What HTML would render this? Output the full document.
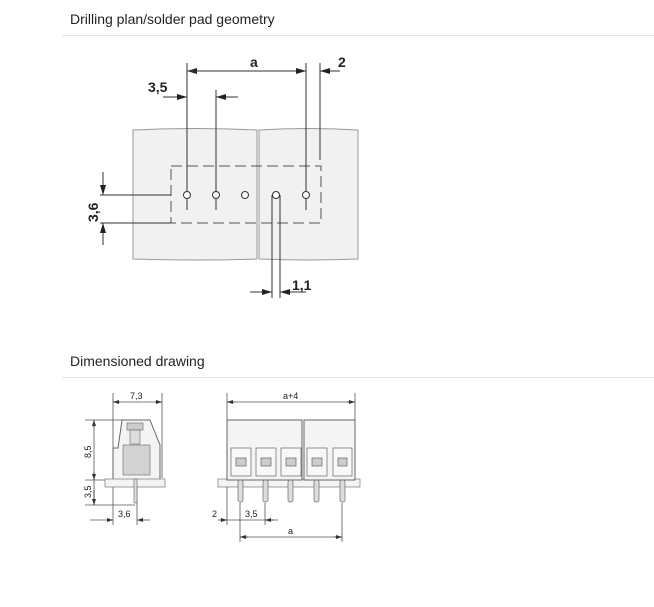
<!DOCTYPE html>
<html><head><style>
body{margin:0;background:#fff;width:654px;height:607px;overflow:hidden;font-family:"Liberation Sans",sans-serif}
.h{position:absolute;left:70px;font-size:14px;color:#222}
.l{position:absolute;left:62px;right:0;height:1px;background:#e6e6e6}
</style></head><body>
<div class="h" style="top:11px">Drilling plan/solder pad geometry</div>
<div class="l" style="top:35px"></div>
<div class="h" style="top:353px">Dimensioned drawing</div>
<div class="l" style="top:377px"></div>
<svg width="654" height="607" style="position:absolute;left:0;top:0" font-family="Liberation Sans,sans-serif">
<defs>
<marker id="a" markerWidth="10" markerHeight="6" refX="10" refY="3" orient="auto" markerUnits="userSpaceOnUse"><path d="M0,0L10,3L0,6z" fill="#222"/></marker>
<marker id="s" markerWidth="6" markerHeight="4" refX="6" refY="2" orient="auto" markerUnits="userSpaceOnUse"><path d="M0,0L6,2L0,4z" fill="#333"/></marker>
</defs>
<g stroke="#999" fill="#f1f1f1" stroke-width="1">
<path d="M133,130 Q195,127 257,130 L257,259 Q195,261 133,259 Z"/>
<path d="M259,130 Q308,127 358,130 L358,259 Q308,261 259,259 Z"/>
</g>
<rect x="171" y="166" width="150" height="57" fill="none" stroke="#555" stroke-dasharray="11,5"/>
<g stroke="#333" stroke-width="1" fill="none">
<line x1="187" y1="63" x2="187" y2="210"/><line x1="216" y1="90" x2="216" y2="210"/>
<line x1="306" y1="63" x2="306" y2="210"/><line x1="320" y1="63" x2="320" y2="160"/>
<line x1="100" y1="195" x2="171" y2="195"/><line x1="100" y1="223" x2="171" y2="223"/>
<line x1="272" y1="195" x2="272" y2="298"/><line x1="280" y1="195" x2="280" y2="298"/>
<line x1="197" y1="71" x2="187" y2="71" marker-end="url(#a)"/>
<line x1="187" y1="71" x2="306" y2="71" marker-end="url(#a)"/>
<line x1="340" y1="71" x2="320" y2="71" marker-end="url(#a)"/>
<line x1="163" y1="97" x2="187" y2="97" marker-end="url(#a)"/>
<line x1="238" y1="97" x2="216" y2="97" marker-end="url(#a)"/>
<line x1="103" y1="172" x2="103" y2="195" marker-end="url(#a)"/>
<line x1="103" y1="245" x2="103" y2="223" marker-end="url(#a)"/>
<line x1="250" y1="292" x2="272" y2="292" marker-end="url(#a)"/>
<line x1="300" y1="292" x2="280" y2="292" marker-end="url(#a)"/>
<line x1="306" y1="292" x2="300" y2="292"/>
</g>
<g fill="#fff" stroke="#333"><circle cx="187" cy="195" r="3.5"/><circle cx="216" cy="195" r="3.5"/><circle cx="245" cy="195" r="3.5"/><circle cx="276" cy="195" r="3.5"/><circle cx="306" cy="195" r="3.5"/></g>
<g font-size="14" font-weight="bold" fill="#222">
<text x="250" y="67">a</text><text x="338" y="67">2</text><text x="148" y="92">3,5</text>
<text x="292" y="290">1,1</text>
<text transform="translate(98,222) rotate(-90)">3,6</text>
</g>
<!-- side view -->
<g stroke="#555" fill="none" stroke-width="0.8">
<line x1="113" y1="393" x2="113" y2="478"/><line x1="162" y1="393" x2="162" y2="478"/>
<line x1="113" y1="402" x2="162" y2="402"/>
<line x1="85" y1="420" x2="125" y2="420"/><line x1="85" y1="480" x2="110" y2="480"/><line x1="85" y1="505" x2="135" y2="505"/>
<line x1="137" y1="487" x2="137" y2="525"/><line x1="113" y1="487" x2="113" y2="525"/>
<line x1="90" y1="520" x2="113" y2="520" marker-end="url(#s)"/>
<line x1="150" y1="520" x2="137" y2="520" marker-end="url(#s)"/>
<line x1="94" y1="420" x2="94" y2="480"/><line x1="94" y1="480" x2="94" y2="505"/>
</g>
<g stroke="#333" stroke-width="0.8">
<line x1="120" y1="402" x2="113" y2="402" marker-end="url(#s)"/><line x1="155" y1="402" x2="162" y2="402" marker-end="url(#s)"/>
<line x1="94" y1="428" x2="94" y2="420" marker-end="url(#s)"/><line x1="94" y1="472" x2="94" y2="480" marker-end="url(#s)"/>
<line x1="94" y1="490" x2="94" y2="505" marker-end="url(#s)"/>
</g>
<path d="M122,420 L150,420 L160,445 L160,480 L113,480 L113,448 L118,448 Z" fill="#f4f4f4" stroke="#666"/>
<rect x="127" y="423" width="16" height="7" fill="#ccc" stroke="#666" stroke-width=".6"/>
<rect x="130" y="430" width="10" height="14" fill="#ddd" stroke="#666" stroke-width=".6"/>
<rect x="123" y="445" width="27" height="30" fill="#d2d2d2" stroke="#666" stroke-width=".6"/>
<rect x="105" y="479" width="60" height="8" fill="#f4f4f4" stroke="#777" stroke-width=".7"/>
<rect x="134" y="479" width="3" height="24" fill="#ddd" stroke="#666" stroke-width=".6"/>
<!-- front view -->
<g stroke="#555" fill="none" stroke-width="0.8">
<line x1="227" y1="393" x2="227" y2="420"/><line x1="355" y1="393" x2="355" y2="420"/>
<line x1="227" y1="487" x2="227" y2="525"/><line x1="240" y1="503" x2="240" y2="542"/><line x1="265" y1="503" x2="265" y2="525"/><line x1="342" y1="503" x2="342" y2="542"/>
<line x1="227" y1="402" x2="355" y2="402"/><line x1="227" y1="520" x2="278" y2="520"/><line x1="240" y1="537" x2="342" y2="537"/>
</g>
<g stroke="#333" stroke-width="0.8">
<line x1="235" y1="402" x2="227" y2="402" marker-end="url(#s)"/><line x1="347" y1="402" x2="355" y2="402" marker-end="url(#s)"/>
<line x1="218" y1="520" x2="227" y2="520" marker-end="url(#s)"/><line x1="274" y1="520" x2="265" y2="520" marker-end="url(#s)"/>
<line x1="248" y1="537" x2="240" y2="537" marker-end="url(#s)"/><line x1="334" y1="537" x2="342" y2="537" marker-end="url(#s)"/>
</g>
<rect x="218" y="479" width="142" height="8" fill="#f4f4f4" stroke="#777" stroke-width=".7"/>
<rect x="227" y="420" width="75" height="60" fill="#f4f4f4" stroke="#666"/>
<rect x="304" y="420" width="51" height="60" fill="#f4f4f4" stroke="#666"/>
<g stroke="#666" stroke-width=".7">
<g fill="#f8f8f8"><rect x="231" y="448" width="20" height="28"/><rect x="256" y="448" width="20" height="28"/><rect x="281" y="448" width="20" height="28"/><rect x="307" y="448" width="20" height="28"/><rect x="333" y="448" width="19" height="28"/></g>
<g fill="#ccc"><rect x="236" y="458" width="10" height="8"/><rect x="261" y="458" width="10" height="8"/><rect x="286" y="458" width="10" height="8"/><rect x="312" y="458" width="10" height="8"/><rect x="338" y="458" width="9" height="8"/></g>
<g fill="#ddd"><rect x="238" y="480" width="5" height="22" rx="2"/><rect x="263" y="480" width="5" height="22" rx="2"/><rect x="288" y="480" width="5" height="22" rx="2"/><rect x="314" y="480" width="5" height="22" rx="2"/><rect x="340" y="480" width="5" height="22" rx="2"/></g>
</g>
<g font-size="9" fill="#222">
<text x="130" y="399">7,3</text><text x="283" y="399">a+4</text>
<text x="118" y="517">3,6</text><text x="212" y="517">2</text><text x="245" y="517">3,5</text><text x="288" y="534">a</text>
<text transform="translate(91,458) rotate(-90)">8,5</text><text transform="translate(91,498) rotate(-90)">3,5</text>
</g>
</svg>
</body></html>
